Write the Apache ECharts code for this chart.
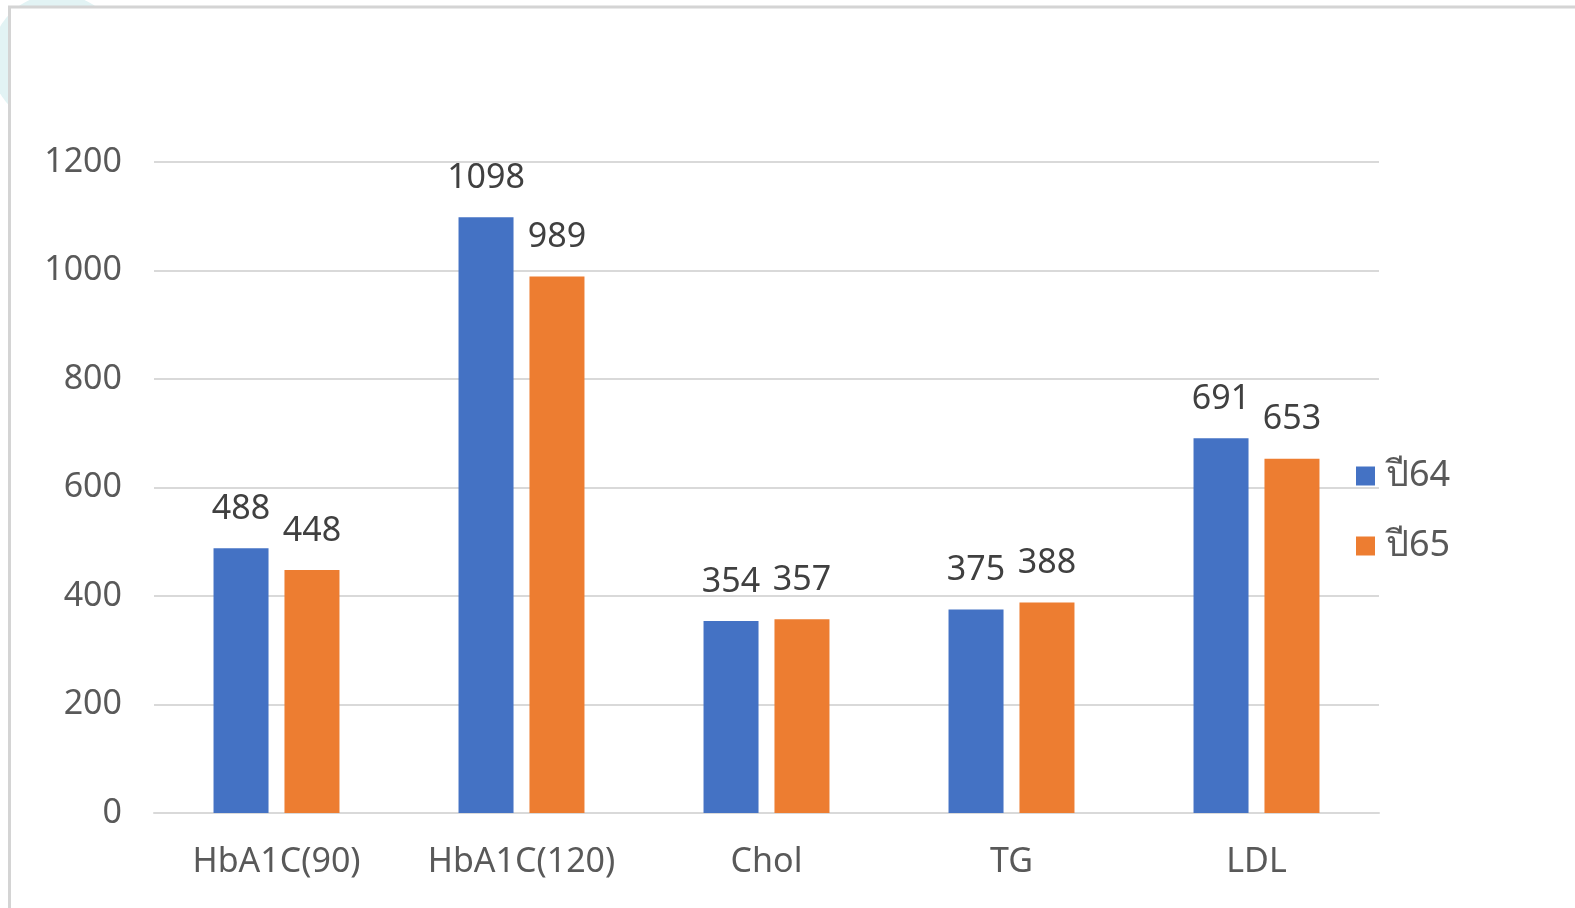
<!DOCTYPE html>
<html><head><meta charset="utf-8">
<script src="https://cdn.jsdelivr.net/npm/echarts@6/dist/echarts.min.js"></script>
<style>html,body{margin:0;padding:0;background:#fff}#c{width:1575px;height:908px}</style>
</head><body><div id="c"></div>
<script>
const categories = ['HbA1C(90)', 'HbA1C(120)', 'Chol', 'TG', 'LDL'];
const seriesNames = ['ปี64', 'ปี65'];
const year64 = [488, 1098, 354, 375, 691];
const year65 = [448, 989, 357, 388, 653];
const colors = ['#4472C4', '#ED7D31'];
const FONT = '"Noto Sans", "Open Sans", sans-serif';

const chart = echarts.init(document.getElementById('c'));
const lbl = {show: true, position: 'top', fontSize: 34, color: '#404040', fontFamily: FONT, distance: 22};
chart.setOption({
  animation: false,
  graphic: [
    {type: 'circle', shape: {cx: 57, cy: 60, r: 66}, style: {fill: '#e2f3f4'}, z: -2},
    {type: 'rect', shape: {x: 9.5, y: 7, width: 1600, height: 1000}, style: {fill: '#fff', stroke: '#d4d4d4', lineWidth: 3}, z: -1}
  ],
  grid: {left: 154, right: 196, top: 162, bottom: 95, containLabel: false},
  legend: {
    orient: 'vertical', left: 1351, top: 453, itemGap: 34,
    itemWidth: 19, itemHeight: 19, icon: 'rect',
    textStyle: {fontSize: 36, color: '#595959', fontFamily: FONT, padding: [0, 0, 0, 6]},
    data: seriesNames
  },
  xAxis: {
    type: 'category', data: categories,
    axisLine: {lineStyle: {color: '#d9d9d9', width: 2}},
    axisTick: {show: false},
    axisLabel: {fontSize: 34, color: '#595959', fontFamily: FONT, margin: 32}
  },
  yAxis: {
    type: 'value', min: 0, max: 1200, interval: 200,
    axisLine: {show: false}, axisTick: {show: false},
    splitLine: {lineStyle: {color: '#d9d9d9', width: 2}},
    axisLabel: {fontSize: 34, color: '#595959', fontFamily: FONT, margin: 32, formatter: v => String(v)}
  },
  series: [
    {name: seriesNames[0], type: 'bar', data: year64, itemStyle: {color: colors[0]}, barWidth: 55, barGap: '29%', label: lbl},
    {name: seriesNames[1], type: 'bar', data: year65, itemStyle: {color: colors[1]}, barWidth: 55, label: lbl}
  ]
});
</script></body></html>
